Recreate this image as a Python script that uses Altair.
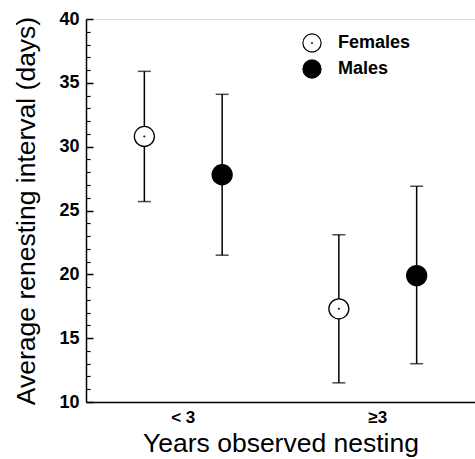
import altair as alt
import pandas as pd

# ---- data ----
groups = ["< 3", "< 3", "≥3", "≥3"]
sexes = ["Females", "Males", "Females", "Males"]
means = [30.8, 27.8, 17.3, 19.9]
lowers = [25.7, 21.5, 11.5, 13.0]
uppers = [35.9, 34.1, 23.1, 26.9]

group_order = ["< 3", "≥3"]
sex_order = ["Females", "Males"]
major_ticks = [10, 15, 20, 25, 30, 35, 40]
minor_ticks = [v for v in range(10, 41) if v % 5 != 0]

df = pd.DataFrame({"group": groups, "sex": sexes, "mean": means,
                   "lower": lowers, "upper": uppers})

FONT = "Liberation Sans"

# open circle with a tiny centre dot (custom symbol, unit coordinates)
female_shape = ("M-1,0A1,1,0,1,0,1,0A1,1,0,1,0,-1,0Z"
                "M-0.04,0A0.04,0.04,0,1,0,0.04,0A0.04,0.04,0,1,0,-0.04,0Z")

x_axis = alt.Axis(title="Years observed nesting", ticks=False, labelAngle=0,
                  labelFont=FONT, labelFontSize=17, labelFontWeight="bold",
                  labelColor="black", labelPadding=7,
                  titleFont=FONT, titleFontSize=26.5, titleFontWeight="normal",
                  titleColor="black", titlePadding=5,
                  domainColor="black", domainWidth=1.5, grid=False)
x_enc = alt.X("group:N", sort=group_order,
              scale=alt.Scale(paddingInner=0, paddingOuter=0), axis=x_axis)
xoff = alt.XOffset("sex:N", sort=sex_order,
                   scale=alt.Scale(paddingOuter=0.25, paddingInner=0))
yscale = alt.Scale(domain=[10, 40], nice=False, zero=False)

main_axis = alt.Axis(orient="left", values=major_ticks, ticks=False, tickSize=0,
                     labelFont=FONT, labelFontSize=18, labelFontWeight="bold",
                     labelColor="black", labelPadding=7,
                     title="Average renesting interval (days)",
                     titleFont=FONT, titleFontSize=26.5, titleFontWeight="normal",
                     titleColor="black", titlePadding=18,
                     domainColor="black", domainWidth=1.5, grid=False)
major_axis = alt.Axis(orient="left", values=major_ticks, labels=False,
                      domain=False, tickSize=7, tickWidth=1.5,
                      tickColor="black", offset=-7, grid=False)
minor_axis = alt.Axis(orient="left", values=minor_ticks, labels=False,
                      domain=False, tickSize=4, tickWidth=1.2,
                      tickColor="black", offset=-4, grid=False)

base = alt.Chart(df)

rules = base.mark_rule(color="black", strokeWidth=1.5).encode(
    x=x_enc, xOffset=xoff,
    y=alt.Y("lower:Q", scale=yscale, axis=main_axis),
    y2="upper:Q",
)
caps_lo = base.mark_tick(color="black", size=13, thickness=1.5).encode(
    x=x_enc, xOffset=xoff,
    y=alt.Y("lower:Q", scale=yscale, axis=major_axis, title=None),
)
caps_hi = base.mark_tick(color="black", size=13, thickness=1.5).encode(
    x=x_enc, xOffset=xoff,
    y=alt.Y("upper:Q", scale=yscale, axis=minor_axis, title=None),
)

legend = alt.Legend(title=None, orient="none", legendX=216, legendY=14,
                    labelFont=FONT, labelFontSize=18, labelFontWeight="bold",
                    labelColor="black", labelOffset=16, symbolSize=330,
                    symbolStrokeWidth=1.2, rowPadding=2, padding=0)

points = base.mark_point(filled=True, size=400, strokeWidth=1.3,
                         opacity=1).encode(
    x=x_enc, xOffset=xoff,
    y=alt.Y("mean:Q", scale=yscale, axis=None),
    shape=alt.Shape("sex:N", sort=sex_order,
                    scale=alt.Scale(domain=sex_order,
                                    range=[female_shape, "circle"]),
                    legend=legend),
    fill=alt.Fill("sex:N", sort=sex_order,
                  scale=alt.Scale(domain=sex_order, range=["white", "black"]),
                  legend=legend),
    stroke=alt.Stroke("sex:N", sort=sex_order,
                      scale=alt.Scale(domain=sex_order,
                                      range=["black", "black"]),
                      legend=legend),
)

chart = alt.layer(rules, caps_lo, caps_hi, points).resolve_axis(
    y="independent"
).properties(
    width=389, height=383,
    autosize=alt.AutoSizeParams(type="none"),
    padding={"left": 86, "top": 19, "right": 0, "bottom": 57},
).configure_view(stroke=None).configure(background="white")

chart.save("out.html", embed_options={"renderer": "svg", "actions": False})
